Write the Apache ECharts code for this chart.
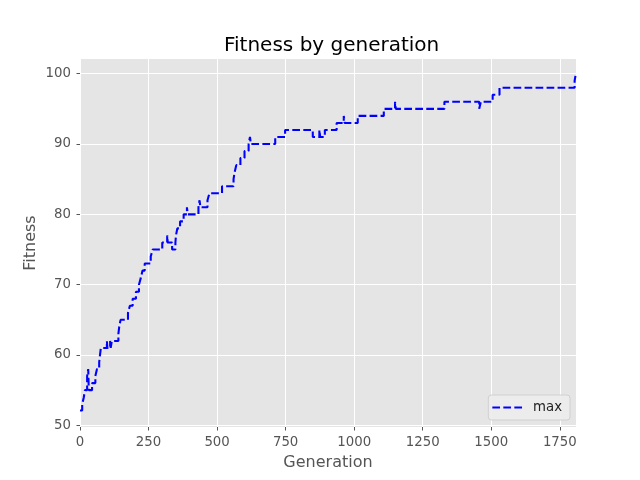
<!DOCTYPE html>
<html>
<head>
<meta charset="utf-8">
<script src="https://cdn.jsdelivr.net/npm/echarts@6/dist/echarts.min.js"></script>
<style>html,body{margin:0;padding:0;background:#fff}#c{width:640px;height:480px}</style>
</head>
<body>
<div id="c"></div>
<script>
// Generation at which max fitness changes, and the value from there on
var generations = [0, 8, 14, 18, 26, 30, 32, 44, 56, 62, 70, 76, 98, 100, 110, 112, 116, 140, 143, 148, 175, 182, 192, 204, 215, 222, 228, 236, 258, 265, 300, 318, 320, 336, 348, 350, 355, 365, 378, 390, 393, 432, 436, 439, 465, 472, 518, 560, 564, 570, 585, 600, 615, 620, 623, 712, 748, 849, 873, 876, 893, 936, 962, 965, 1013, 1108, 1149, 1152, 1329, 1456, 1462, 1505, 1530, 1804, 1807, 1809];
var maxFitness = [52.1, 53, 54, 55, 57, 58, 55, 56, 57, 58, 59, 61, 62, 61, 62, 61, 62, 63, 64, 65, 66, 67, 68, 69, 70, 71, 72, 73, 74, 75, 76, 77, 76, 75, 76, 77, 78, 79, 80, 81, 80, 81, 82, 81, 82, 83, 84, 85, 86, 87, 88, 89, 90, 91, 90, 91, 92, 91, 92, 91, 92, 93, 94, 93, 94, 95, 96, 95, 96, 95, 96, 97, 98, 99, 99.7, 99.7];
var xTicks = [0, 250, 500, 750, 1000, 1250, 1500, 1750];
var yTicks = [50, 60, 70, 80, 90, 100];
var seriesName = 'max';

var data = generations.map(function (g, i) { return [g, maxFitness[i]]; });
var font = 'DejaVu Sans';
var chart = echarts.init(document.getElementById('c'), null, {renderer: 'canvas'});
chart.setOption({
  animation: false,
  backgroundColor: '#ffffff',
  title: {
    text: 'Fitness by generation',
    left: 219, top: 31,
    textStyle: {fontFamily: font, fontSize: 20, fontWeight: 'normal', color: '#000'}
  },
  grid: {left: 80, top: 59, width: 496, height: 368, backgroundColor: '#E5E5E5', show: true, borderWidth: 0},
  legend: {
    data: [{name: seriesName, icon: 'path://M0,0h7.7v2h-7.7z M11,0h7.7v2h-7.7z M22,0h7.7v2h-7.7z'}],
    right: 70, top: 395,
    backgroundColor: 'rgba(236,236,236,0.9)', borderColor: '#d0d0d0', borderWidth: 1, borderRadius: 3,
    padding: [6, 8, 6, 4], itemWidth: 29.7, itemHeight: 2.1, itemGap: 5,
    textStyle: {fontFamily: font, fontSize: 13.3, color: '#222', padding: [0, 0, 0, 6]}
  },
  xAxis: {
    type: 'value', min: 0, max: 1809,
    name: 'Generation', nameLocation: 'middle', nameGap: 28, nameMoveOverlap: false,
    nameTextStyle: {fontFamily: font, fontSize: 16, color: '#555'},
    axisLine: {show: false},
    axisTick: {show: true, length: 3.5, customValues: xTicks, lineStyle: {color: '#555', width: 1}},
    axisLabel: {fontFamily: font, fontSize: 13.3, color: '#555', margin: 9, customValues: xTicks,
      formatter: function (v) { return String(v); }},
    splitLine: {show: true, lineStyle: {color: '#ffffff', width: 1}}
  },
  yAxis: {
    type: 'value', min: 49.76, max: 102.09,
    name: 'Fitness', nameLocation: 'middle', nameGap: 41, nameMoveOverlap: false,
    nameTextStyle: {fontFamily: font, fontSize: 16, color: '#555'},
    axisLine: {show: false},
    axisTick: {show: true, length: 3.5, customValues: yTicks, lineStyle: {color: '#555', width: 1}},
    axisLabel: {fontFamily: font, fontSize: 13.3, color: '#555', margin: 9, customValues: yTicks,
      formatter: function (v) { return String(v); }},
    splitLine: {show: true, lineStyle: {color: '#ffffff', width: 1}}
  },
  series: [{
    name: seriesName, type: 'line', step: 'end', data: data,
    symbol: 'none', showSymbol: false,
    lineStyle: {color: '#0000FF', width: 2.08, type: [7.7, 3.3]},
    itemStyle: {color: '#0000FF'}
  }]
});
</script>
</body>
</html>
